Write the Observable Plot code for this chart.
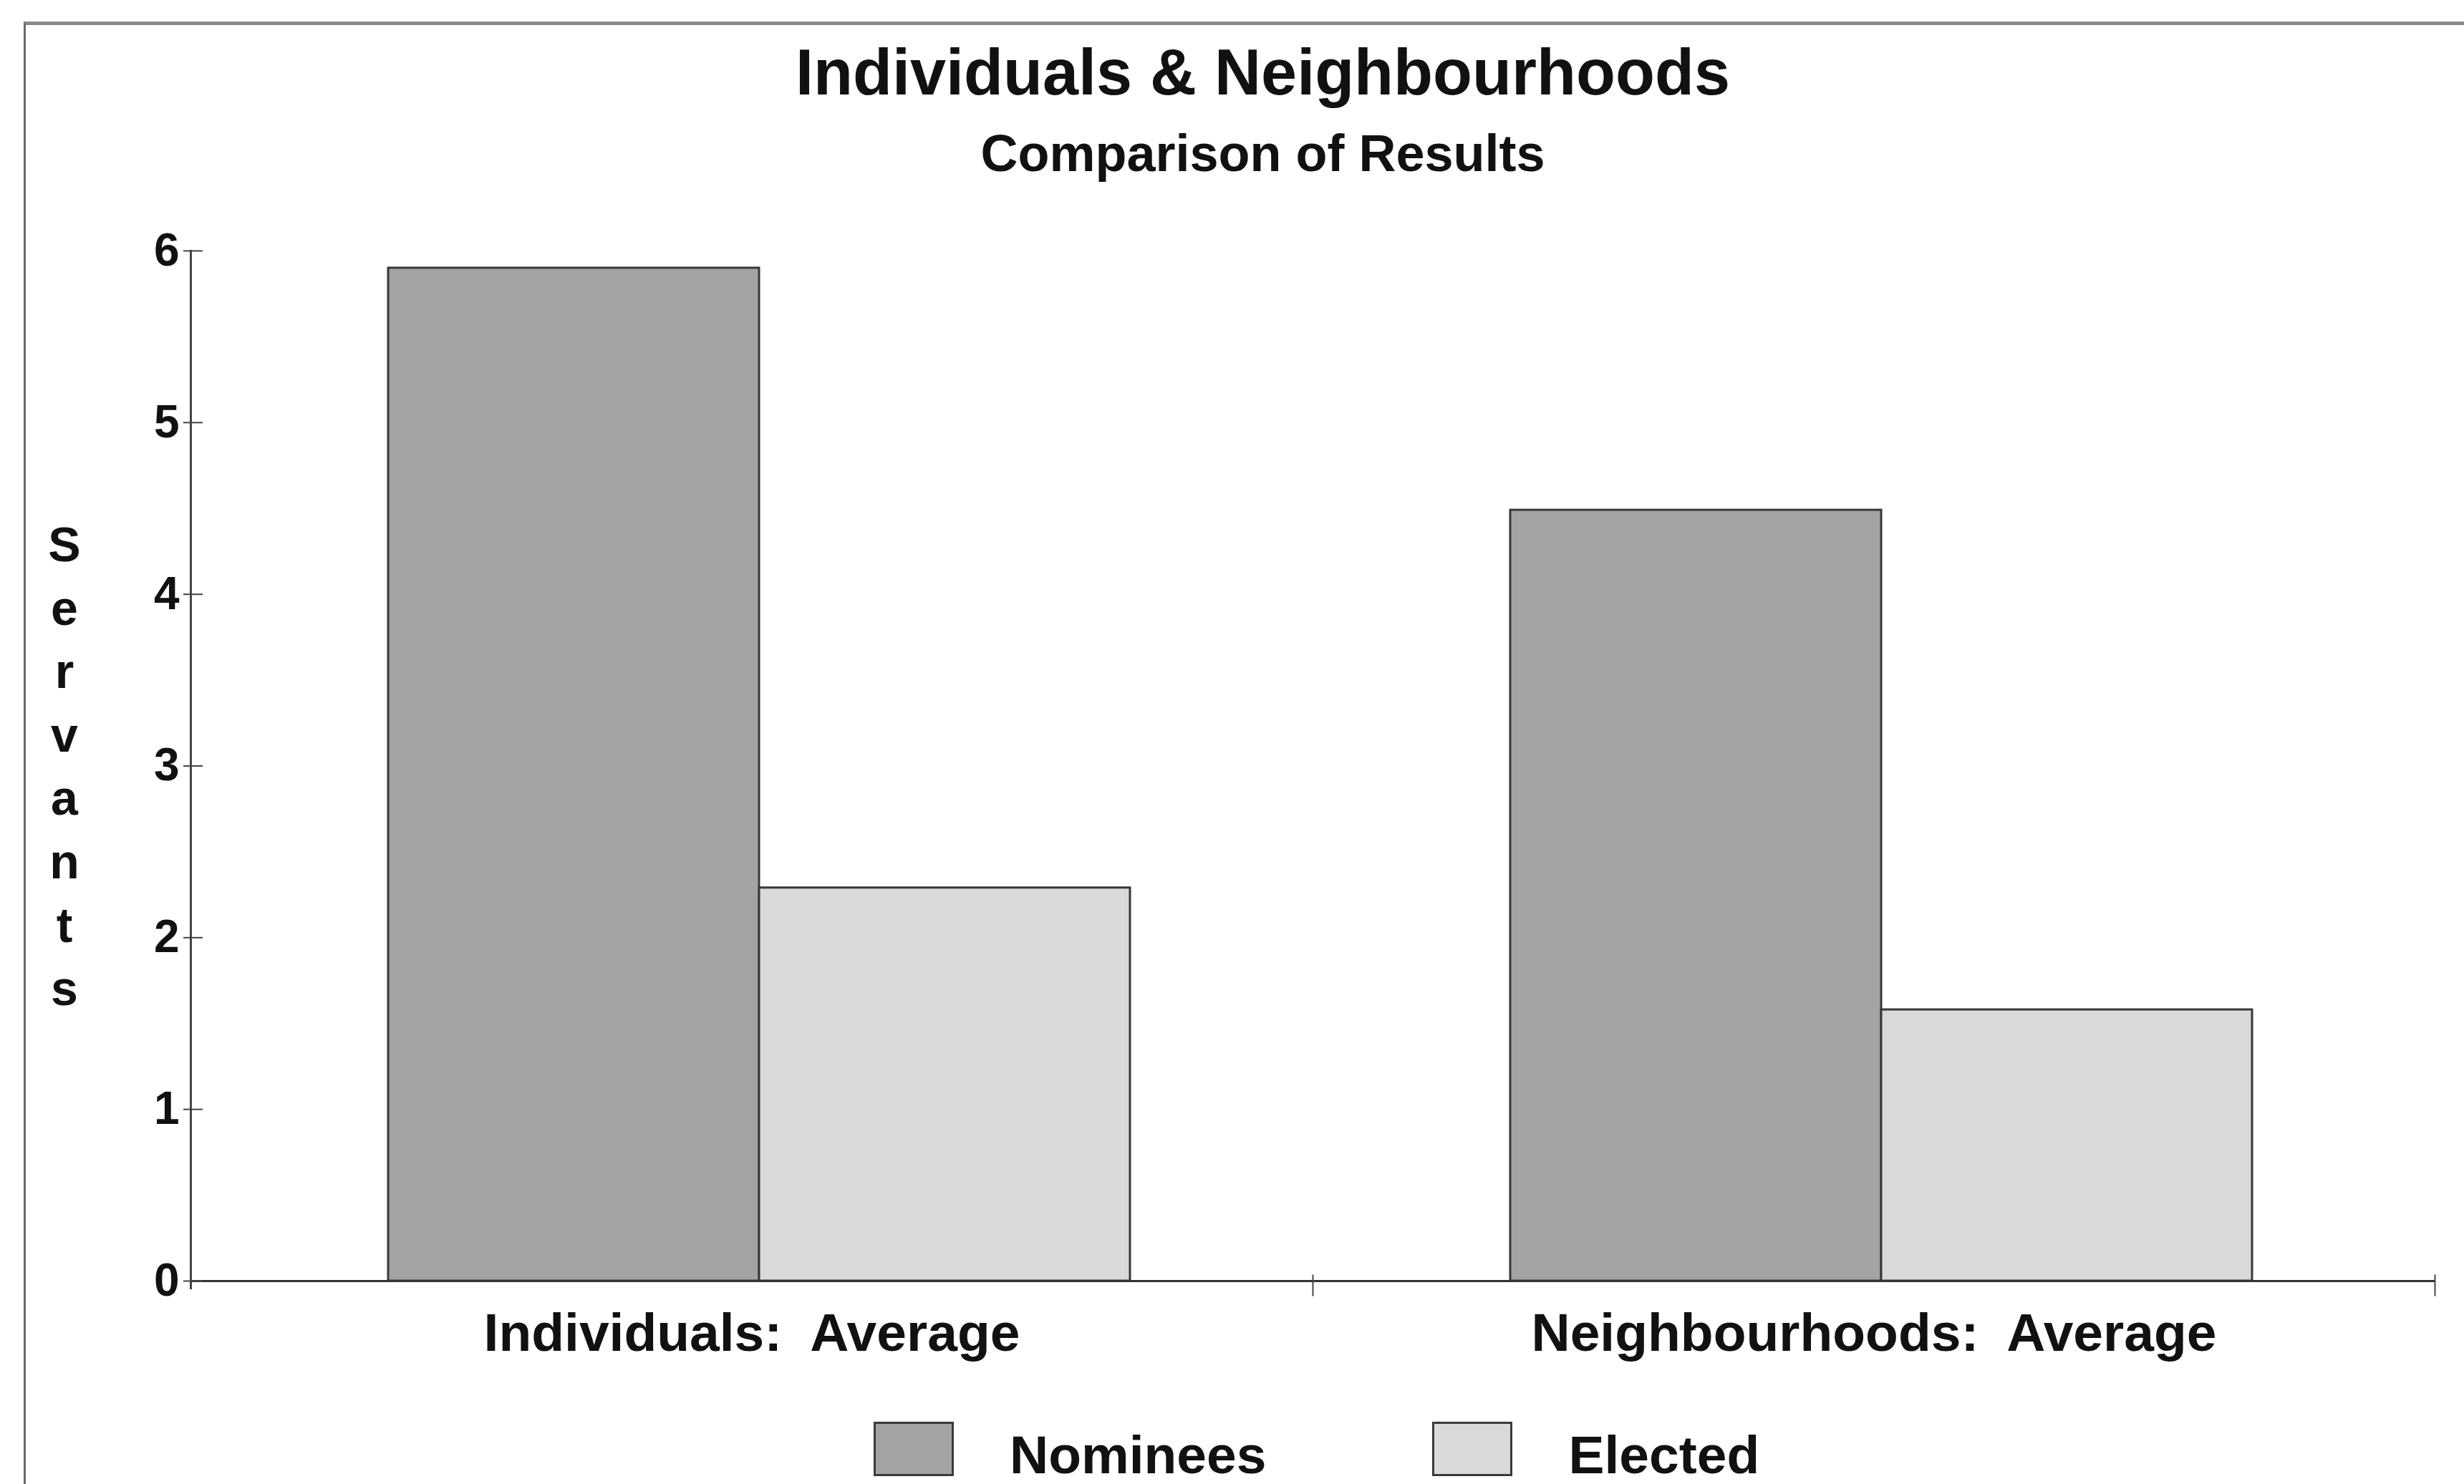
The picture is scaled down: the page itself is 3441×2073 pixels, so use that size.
<!DOCTYPE html>
<html>
<head>
<meta charset="utf-8">
<script src="https://cdn.jsdelivr.net/npm/d3@7"></script>
<script src="https://cdn.jsdelivr.net/npm/@observablehq/plot@0.6"></script>
<style>
  html, body { margin: 0; padding: 0; background: #fff; }
  body { font-family: "Liberation Sans", Arial, sans-serif; font-weight: bold; color: #111; }
  #page { position: relative; width: 3441px; height: 2073px; overflow: hidden; }
  #border { position: absolute; left: 33px; top: 30px; right: -10px; bottom: -10px;
            border-top: 5px solid #8a8a8a; border-left: 3px solid #6a6a6a; }
  #title { position: absolute; left: 0; width: 3441px; top: 56px; text-align: center;
           font-size: 90px; line-height: 1; margin-left: 43px; }
  #subtitle { position: absolute; left: 0; width: 3441px; top: 178px; text-align: center;
              font-size: 72px; line-height: 1; margin-left: 43px; }
  #ylabel { position: absolute; left: 50px; width: 80px; top: 716px; text-align: center;
            font-size: 68px; }
  #ylabel span { display: block; height: 88.6px; line-height: 88.6px; }
  #chart { position: absolute; left: 0; top: 290px; }
  #legend { position: absolute; top: 1986px; left: 1220px; display: flex; align-items: center; }
  .item { display: flex; align-items: center; margin-right: 232px; }
  .swatch { width: 112px; height: 76px; box-sizing: border-box; border: 3px solid #3a3a3a; margin-right: 78px; }
  .item span { font-size: 75px; line-height: 1; position: relative; top: 8px; }
</style>
</head>
<body>
<div id="page">
  <div id="border"></div>
  <div id="title"></div>
  <div id="subtitle"></div>
  <div id="ylabel"></div>
  <div id="chart"></div>
  <div id="legend"></div>
</div>
<script>
// Chart text
const titleText = "Individuals & Neighbourhoods";
const subtitleText = "Comparison of Results";
const yLabelText = "Servants";

// Categories along the x axis and the two series drawn in each
const categories = ["Individuals: Average", "Neighbourhoods: Average"];
const series = ["Nominees", "Elected"];

// Average number of servants per category, one array per series
const nominees = [5.9, 4.49];
const elected = [2.29, 1.58];

// Y axis ticks
const yTicks = [0, 1, 2, 3, 4, 5, 6];

// Fill greys for the two series
const seriesColors = ["#a3a3a3", "#d9d9d9"];
const outline = "#383838";

const rows = [];
categories.forEach((c, i) => {
  rows.push({category: c, series: series[0], value: nominees[i]});
  rows.push({category: c, series: series[1], value: elected[i]});
});

document.getElementById("title").textContent = titleText;
document.getElementById("subtitle").textContent = subtitleText;
const yl = document.getElementById("ylabel");
for (const ch of yLabelText) {
  const s = document.createElement("span");
  s.textContent = ch;
  yl.appendChild(s);
}

const width = 3441;
const height = 1630;
const marginTop = 60;
const marginBottom = 131;
const marginLeft = 266;
const marginRight = 41;
const plotH = height - marginTop - marginBottom;

const chart = Plot.plot({
  width, height, marginTop, marginBottom, marginLeft, marginRight,
  style: {fontFamily: "'Liberation Sans', Arial, sans-serif", fontWeight: "bold", color: "#111", background: "transparent"},
  fx: {domain: categories, padding: 0, label: null},
  x: {domain: series, paddingInner: 0, paddingOuter: 0.51, align: 0.52, axis: null},
  y: {domain: [0, 6], label: null},
  color: {domain: series, range: seriesColors},
  marks: [
    Plot.barY(rows, {fx: "category", x: "series", y: "value", fill: "series",
                     stroke: outline, strokeWidth: 3, inset: 0}),
    Plot.ruleY([0], {stroke: "#333", strokeWidth: 3}),
    // y axis line, in the leftmost panel only
    Plot.frame({anchor: "left", facetAnchor: "left", stroke: "#444", strokeWidth: 3, insetBottom: -10}),
    // short separator ticks at the right end of each category
    Plot.frame({anchor: "right", stroke: "#444", strokeWidth: 2, insetTop: plotH - 8, insetBottom: -20}),
    Plot.axisY(yTicks, {anchor: "left", tickSize: 10, tickPadding: 6, fontSize: 64, fontWeight: "bold",
                        tickFormat: d => String(d), stroke: "#444", strokeWidth: 2, label: null}),
    // inner half of each y tick, crossing the axis line
    Plot.axisY(yTicks, {anchor: "left", tickSize: -17, tickFormat: () => "", stroke: "#444", strokeWidth: 2, label: null}),
    Plot.axisFx({anchor: "bottom", tickSize: 0, tickPadding: 44, fontSize: 75, fontWeight: "bold", label: null,
                 tickFormat: d => d.replace(": ", ":\u00a0 ")})
  ]
});
document.getElementById("chart").appendChild(chart);

// Legend built from the same series and colours
const legend = document.getElementById("legend");
series.forEach((s, i) => {
  const item = document.createElement("div");
  item.className = "item";
  const sw = document.createElement("div");
  sw.className = "swatch";
  sw.style.background = seriesColors[i];
  const lab = document.createElement("span");
  lab.textContent = s;
  item.appendChild(sw);
  item.appendChild(lab);
  legend.appendChild(item);
});
</script>
</body>
</html>
